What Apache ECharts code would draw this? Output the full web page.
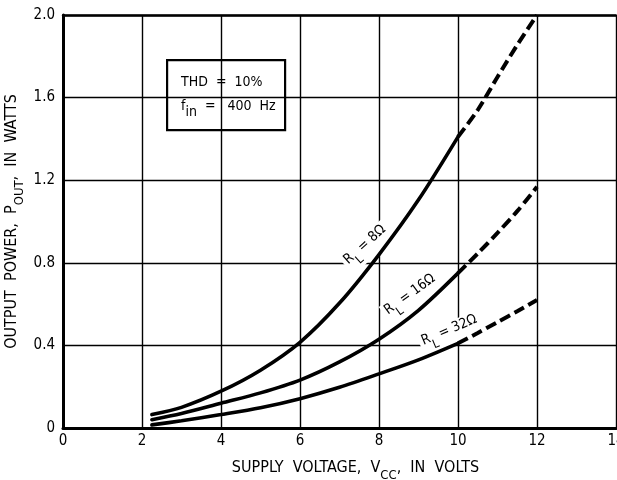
<!DOCTYPE html>
<html>
<head>
<meta charset="utf-8">
<script src="https://cdn.jsdelivr.net/npm/echarts@6/dist/echarts.min.js"></script>
<style>
  html, body { margin: 0; padding: 0; background: #fff; }
  #chart { width: 617px; height: 480px; }
</style>
</head>
<body>
<div id="chart"></div>
<script>
// Supply voltage samples (V) for measured (solid) and extrapolated (dashed) parts
const vSolid = [2.25, 3, 4, 5, 6, 7, 8, 9, 10];
const vDashed = [10, 10.5, 11, 11.5, 12];

// Output power (W) at THD = 10 %, per load resistance
const p8Solid = [0.065, 0.10, 0.178, 0.28, 0.415, 0.605, 0.84, 1.105, 1.41];
const p8Dashed = [1.41, 1.54, 1.70, 1.855, 2.0];
const p16Solid = [0.04, 0.07, 0.12, 0.17, 0.232, 0.32, 0.43, 0.57, 0.75];
const p16Dashed = [0.75, 0.845, 0.945, 1.05, 1.168];
const p32Solid = [0.015, 0.035, 0.065, 0.098, 0.142, 0.197, 0.262, 0.33, 0.41];
const p32Dashed = [0.41, 0.46, 0.513, 0.565, 0.62];

// Tick labels
const xTickLabels = ['0', '2', '4', '6', '8', '10', '12', '14'];
const yTickLabels = ['0', '0.4', '0.8', '1.2', '1.6', '2.0'];

const FONT = '"Liberation Sans Narrow", "DejaVu Sans Condensed", sans-serif';

const pairs = (xs, ys) => xs.map((x, i) => [x, ys[i]]);

const solidStyle = { color: '#000', width: 3.6, cap: 'round' };
const dashStyle = { color: '#000', width: 4, type: [11, 5], cap: 'butt' };

// Rotated curve caption on a white plate, drawn under the curves but over the grid
const curveLabel = (text, coord, rot) => ({
  silent: true,
  z: 1,
  symbol: 'circle',
  symbolSize: 0,
  label: {
    show: true,
    position: 'inside',
    rotate: rot,
    formatter: text,
    color: '#000',
    fontFamily: FONT,
    fontSize: 14,
    backgroundColor: '#fff',
    padding: [1, 3],
    rich: {
      sub: { fontSize: 12, fontFamily: FONT, verticalAlign: 'bottom', lineHeight: 21 },
      m: { fontSize: 14, fontFamily: FONT, verticalAlign: 'top', lineHeight: 16 }
    }
  },
  data: [{ coord: coord }]
});

const titleRich = {
  m: { fontFamily: FONT, fontSize: 16, color: '#000', verticalAlign: 'top', lineHeight: 17 },
  sub: { fontFamily: FONT, fontSize: 13, color: '#000', verticalAlign: 'bottom', lineHeight: 22 }
};

const lineSeries = (xs, ys, style) => ({
  type: 'line', smooth: 0.3, symbol: 'none',
  lineStyle: style, data: pairs(xs, ys), z: 3
});

const chart = echarts.init(document.getElementById('chart'), null, { renderer: 'canvas' });

chart.setOption({
  backgroundColor: '#fff',
  animation: false,
  grid: { left: 63, right: 1, top: 15, bottom: 52, outerBoundsMode: 'none', containLabel: false },
  xAxis: [{
    type: 'value',
    min: 0, max: 14, interval: 2,
    name: '{m|SUPPLY  VOLTAGE,  V}{sub|CC}{m|,  IN  VOLTS}',
    nameLocation: 'middle',
    nameGap: 32,
    nameMoveOverlap: false,
    nameTextStyle: { rich: titleRich, padding: [0, 0, 0, 32] },
    axisLine: { show: true, onZero: false, lineStyle: { color: '#000', width: 3 } },
    axisTick: { show: false },
    axisLabel: {
      color: '#000', fontFamily: FONT, fontSize: 15, margin: 6,
      formatter: (v, i) => xTickLabels[i]
    },
    splitLine: { show: true, lineStyle: { color: '#000', width: 1.4 } }
  }, {
    type: 'value',
    position: 'top',
    min: 0, max: 14, interval: 2,
    axisLine: { show: true, onZero: false, lineStyle: { color: '#000', width: 2.5 } },
    axisTick: { show: false },
    axisLabel: { show: false },
    splitLine: { show: false }
  }],
  yAxis: {
    type: 'value',
    min: 0, max: 2.0, interval: 0.4,
    name: '{m|OUTPUT  POWER,  P}{sub|OUT}{m|,  IN  WATTS}',
    nameLocation: 'middle',
    nameGap: 37,
    nameMoveOverlap: false,
    nameTextStyle: { rich: titleRich },
    axisLine: { show: true, onZero: false, lineStyle: { color: '#000', width: 3 } },
    axisTick: { show: false },
    axisLabel: {
      color: '#000', fontFamily: FONT, fontSize: 15, margin: 8,
      formatter: (v, i) => yTickLabels[i]
    },
    splitLine: { show: true, lineStyle: { color: '#000', width: 1.4 } }
  },
  series: [
    Object.assign(lineSeries(vSolid, p8Solid, solidStyle), {
      name: 'RL = 8 ohm',
      markPoint: curveLabel('{m|R}{sub|L}{m| = 8Ω}', [7.7, 0.875], 42)
    }),
    lineSeries(vDashed, p8Dashed, dashStyle),
    Object.assign(lineSeries(vSolid, p16Solid, solidStyle), {
      name: 'RL = 16 ohm',
      markPoint: curveLabel('{m|R}{sub|L}{m| = 16Ω}', [8.83, 0.633], 36)
    }),
    lineSeries(vDashed, p16Dashed, dashStyle),
    Object.assign(lineSeries(vSolid, p32Solid, solidStyle), {
      name: 'RL = 32 ohm',
      markPoint: curveLabel('{m|R}{sub|L}{m| = 32Ω}', [9.81, 0.458], 23)
    }),
    lineSeries(vDashed, p32Dashed, dashStyle)
  ],
  graphic: [{
    type: 'group',
    left: 166, top: 59,
    z: 10,
    children: [
      {
        type: 'rect',
        shape: { x: 0, y: 0, width: 118, height: 70 },
        style: { fill: '#fff', stroke: '#000', lineWidth: 2.2 }
      },
      {
        type: 'text',
        x: 14, y: 15,
        style: { text: 'THD  =  10%', fill: '#000', font: '14px ' + FONT }
      },
      {
        type: 'text',
        x: 14, y: 39,
        style: {
          text: '{m|f}{sub|in}{m|  =   400  Hz}',
          fill: '#000',
          rich: {
            m: { fontFamily: FONT, fontSize: 14, verticalAlign: 'top', lineHeight: 16, fill: '#000' },
            sub: { fontFamily: FONT, fontSize: 14, verticalAlign: 'bottom', lineHeight: 20, fill: '#000' }
          }
        }
      }
    ]
  }]
});
</script>
</body>
</html>
